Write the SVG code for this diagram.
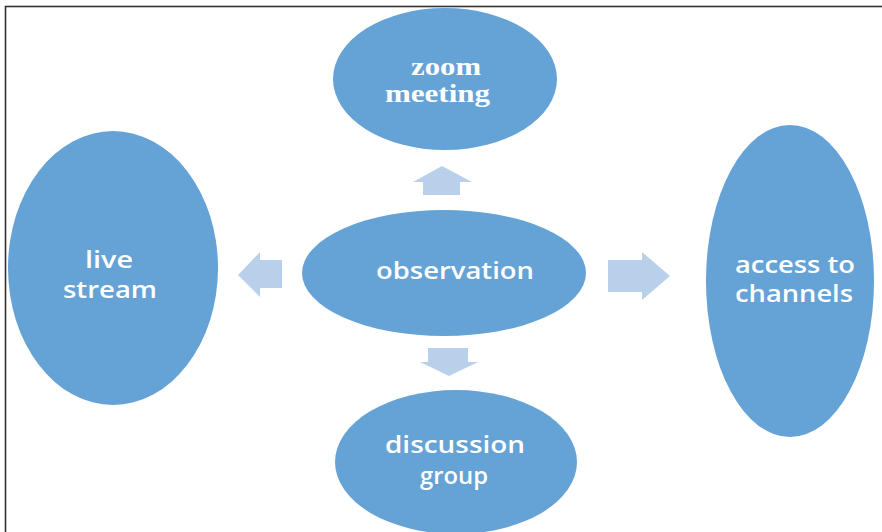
<svg xmlns="http://www.w3.org/2000/svg" width="882" height="532" viewBox="0 0 882 532">
  <style>
    .node { fill: #65a2d5; }
    .arrow { fill: #b9d0ea; }
    .lbl { fill: #ffffff; font-family: "Open Sans", "Liberation Sans", sans-serif; font-size: 23px; font-weight: 600; }
    .serif { fill: #ffffff; font-family: "Liberation Serif", "DejaVu Serif", serif; font-size: 25px; font-weight: bold; }
    .frame { fill: none; stroke: #333333; stroke-width: 1.6; }
  </style>
  <rect width="882" height="532" fill="#ffffff"/>
  <rect class="frame" x="5.5" y="6.5" width="890" height="540"/>

  <g id="connectors">
    <!-- up -->
    <polygon class="arrow" points="423,195 460,195 460,182 472,182 442,166 413,182 423,182"/>
    <!-- left -->
    <polygon class="arrow" points="282,260 282,288 260,288 260,297 238,275 260,252 260,260"/>
    <!-- right -->
    <polygon class="arrow" points="608,260 642,260 642,252 670,276 642,300 642,292 608,292"/>
    <!-- down -->
    <polygon class="arrow" points="428,348 468,348 468,362 478,362 449,376 420,362 428,362"/>
  </g>

  <g id="zoom-meeting">
    <ellipse class="node" cx="445" cy="79" rx="112" ry="71"/>
    <text class="serif" x="411" y="75" textLength="70" lengthAdjust="spacingAndGlyphs">zoom</text>
    <text class="serif" x="385" y="102" textLength="105" lengthAdjust="spacingAndGlyphs">meeting</text>
  </g>

  <g id="observation">
    <ellipse class="node" cx="444" cy="273" rx="142" ry="63"/>
    <text class="lbl" x="376" y="279" textLength="158" lengthAdjust="spacingAndGlyphs">observation</text>
  </g>

  <g id="live-stream">
    <ellipse class="node" cx="113" cy="268" rx="105" ry="137"/>
    <text class="lbl" x="85" y="268" textLength="48" lengthAdjust="spacingAndGlyphs">live</text>
    <text class="lbl" x="63" y="298" textLength="94" lengthAdjust="spacingAndGlyphs">stream</text>
  </g>

  <g id="access-to-channels">
    <ellipse class="node" cx="790" cy="281" rx="84" ry="156"/>
    <text class="lbl" x="735" y="273" textLength="120" lengthAdjust="spacingAndGlyphs">access to</text>
    <text class="lbl" x="735" y="302" textLength="118" lengthAdjust="spacingAndGlyphs">channels</text>
  </g>

  <g id="discussion-group">
    <ellipse class="node" cx="456" cy="462" rx="121" ry="72"/>
    <text class="lbl" x="385" y="453" textLength="140" lengthAdjust="spacingAndGlyphs">discussion</text>
    <text class="lbl" x="420" y="484" textLength="68" lengthAdjust="spacingAndGlyphs">group</text>
  </g>
</svg>
